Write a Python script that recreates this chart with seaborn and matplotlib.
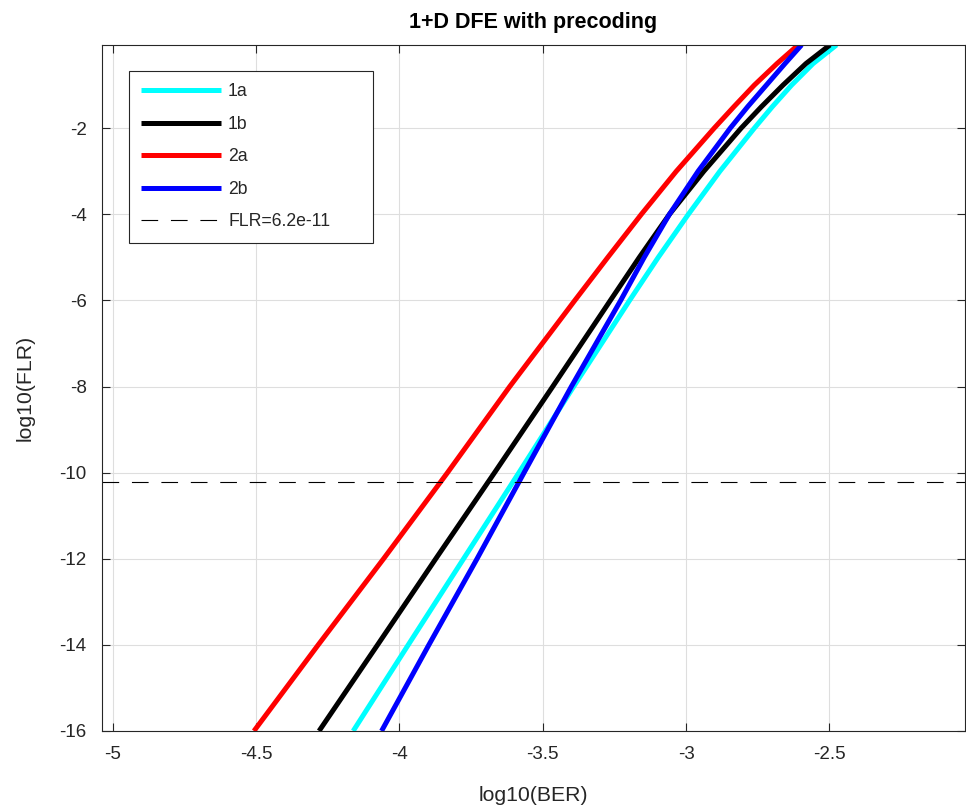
import numpy as np
import pandas as pd
import matplotlib
matplotlib.use("Agg")
import matplotlib.pyplot as plt
import seaborn as sns

# FLR levels (log10) at which the BER of each curve was read
flr_levels = [-16, -14, -12, -10, -8, -6, -5, -4, -3, -2, -1.5, -1, -0.5, -0.066]

# log10(BER) for each case
ber_1a = [-4.161, -3.969, -3.776, -3.583, -3.392, -3.197, -3.097, -2.992, -2.882, -2.762, -2.699, -2.632, -2.557, -2.475]
ber_1b = [-4.280, -4.076, -3.873, -3.668, -3.465, -3.264, -3.163, -3.058, -2.938, -2.808, -2.737, -2.662, -2.582, -2.498]
ber_2a = [-4.507, -4.283, -4.055, -3.832, -3.615, -3.388, -3.273, -3.156, -3.034, -2.902, -2.833, -2.762, -2.683, -2.609]
ber_2b = [-4.062, -3.897, -3.729, -3.565, -3.400, -3.228, -3.146, -3.058, -2.958, -2.846, -2.785, -2.720, -2.655, -2.597]

labels = ["1a", "1b", "2a", "2b"]
colors = ["#00ffff", "#000000", "#ff0000", "#0000ff"]

flr_target = 6.2e-11

sns.set_theme(style="whitegrid")
plt.rcParams['font.family'] = ['Liberation Sans', 'DejaVu Sans']

fig = plt.figure(figsize=(9.66, 8.08), dpi=100)
ax = fig.add_axes([0.1056, 0.0953, 0.8934, 0.8491])

for lab, ber, col in zip(labels, [ber_1a, ber_1b, ber_2a, ber_2b], colors):
    df = pd.DataFrame({"ber": ber, "flr": flr_levels})
    sns.lineplot(data=df, x="ber", y="flr", sort=False, estimator=None,
                 color=col, linewidth=3.6, label=lab, ax=ax,
                 solid_joinstyle="round", solid_capstyle="butt")

ax.axhline(np.log10(flr_target), color="black", linewidth=0.8,
           linestyle=(0, (15, 11.5)), label="FLR=6.2e-11")

ax.set_xlim(-5.037, -2.027)
ax.set_ylim(-16, -0.066)
ax.set_xticks([-5, -4.5, -4, -3.5, -3, -2.5])
ax.set_xticklabels(["-5", "-4.5", "-4", "-3.5", "-3", "-2.5"])
ax.set_yticks([-16, -14, -12, -10, -8, -6, -4, -2])
ax.set_yticklabels(["-16", "-14", "-12", "-10", "-8", "-6", "-4", "-2"])

ax.grid(True, color="#dedede", linewidth=0.8)
for s in ax.spines.values():
    s.set_visible(True)
    s.set_color("#262626")
    s.set_linewidth(0.8)
ax.tick_params(axis="both", direction="in", length=6, width=0.8, color="#262626",
               labelsize=13.5, labelcolor="#262626", top=True, right=True,
               left=True, bottom=True)
ax.tick_params(axis="x", pad=10.5)
ax.tick_params(axis="y", pad=11)

ax.set_xlabel("log10(BER)", fontsize=15.3, color="#262626", labelpad=17)
ax.set_ylabel("log10(FLR)", fontsize=15.3, color="#262626", labelpad=18)
ax.set_title("1+D DFE with precoding", fontsize=15.5, fontweight="bold",
             color="black", pad=12)

leg = ax.legend(loc="upper left", bbox_to_anchor=(0.031, 0.5, 0.2834, 0.462),
                mode="expand", fontsize=12.7,
                handlelength=4.55, handletextpad=0.38, labelspacing=0.88,
                borderpad=0.7, fancybox=False, framealpha=1, borderaxespad=0)
leg.get_frame().set_edgecolor("#262626")
leg.get_frame().set_linewidth(0.8)

fig.savefig("out.png", dpi=100)
